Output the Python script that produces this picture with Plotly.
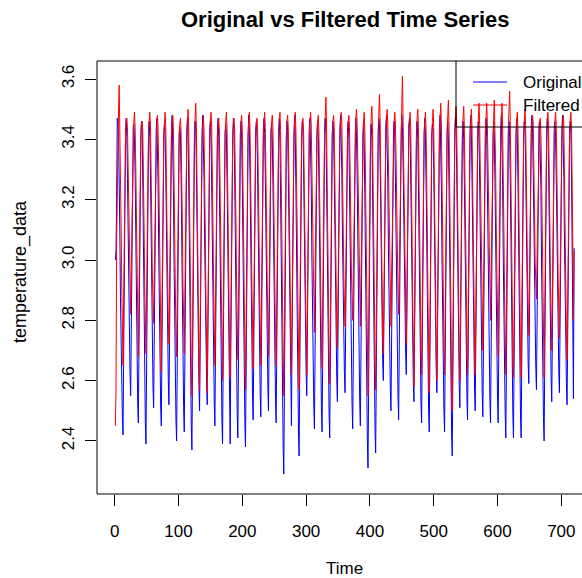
import plotly.graph_objects as go

# Monthly values, one row per 12-step cycle
original_rows = [
    [3.00,3.03,3.20,3.47,3.45,3.42,3.30,3.10,2.88,2.70,2.56,2.48],
    [2.42,2.73,3.04,3.29,3.42,3.47,3.41,3.27,3.06,2.84,2.67,2.62],
    [2.55,2.83,3.08,3.31,3.44,3.45,3.40,3.28,3.04,2.81,2.63,2.53],
    [2.46,2.76,3.05,3.30,3.42,3.46,3.43,3.26,3.02,2.79,2.60,2.46],
    [2.39,2.70,3.02,3.28,3.42,3.46,3.41,3.29,3.07,2.85,2.68,2.58],
    [2.51,2.80,3.07,3.31,3.43,3.47,3.40,3.25,3.03,2.81,2.62,2.52],
    [2.45,2.75,3.05,3.29,3.42,3.45,3.42,3.29,3.08,2.86,2.69,2.60],
    [2.52,2.81,3.08,3.32,3.44,3.48,3.40,3.24,3.00,2.78,2.59,2.47],
    [2.40,2.70,3.01,3.27,3.41,3.44,3.42,3.28,3.05,2.82,2.64,2.51],
    [2.43,2.74,3.04,3.29,3.42,3.47,3.41,3.26,3.02,2.79,2.60,2.45],
    [2.37,2.68,3.00,3.27,3.41,3.46,3.43,3.30,3.08,2.86,2.68,2.58],
    [2.50,2.79,3.07,3.31,3.43,3.48,3.41,3.27,3.06,2.85,2.68,2.60],
    [2.52,2.81,3.07,3.31,3.44,3.46,3.40,3.25,3.03,2.81,2.63,2.53],
    [2.45,2.75,3.04,3.29,3.42,3.47,3.41,3.26,3.03,2.80,2.61,2.47],
    [2.39,2.70,3.02,3.28,3.42,3.45,3.42,3.27,3.04,2.81,2.61,2.47],
    [2.39,2.71,3.02,3.28,3.41,3.47,3.43,3.28,3.05,2.82,2.63,2.49],
    [2.41,2.72,3.03,3.29,3.42,3.46,3.40,3.25,3.02,2.79,2.60,2.46],
    [2.38,2.69,3.01,3.27,3.41,3.48,3.43,3.29,3.07,2.85,2.67,2.55],
    [2.47,2.77,3.05,3.30,3.43,3.46,3.41,3.27,3.05,2.84,2.66,2.56],
    [2.48,2.78,3.06,3.30,3.43,3.47,3.42,3.28,3.06,2.85,2.67,2.58],
    [2.50,2.79,3.07,3.31,3.43,3.45,3.40,3.25,3.03,2.82,2.64,2.54],
    [2.46,2.76,3.05,3.29,3.42,3.47,3.39,3.21,2.95,2.71,2.51,2.38],
    [2.29,2.62,2.97,3.25,3.40,3.46,3.43,3.30,3.08,2.85,2.66,2.53],
    [2.45,2.75,3.04,3.29,3.42,3.48,3.41,3.24,2.99,2.76,2.56,2.43],
    [2.35,2.67,3.00,3.27,3.41,3.46,3.44,3.31,3.10,2.89,2.71,2.63],
    [2.55,2.83,3.09,3.32,3.44,3.47,3.40,3.25,3.02,2.80,2.62,2.52],
    [2.44,2.74,3.04,3.29,3.42,3.46,3.41,3.27,3.04,2.81,2.62,2.51],
    [2.43,2.73,3.03,3.28,3.42,3.47,3.42,3.27,3.03,2.80,2.61,2.49],
    [2.41,2.72,3.03,3.28,3.42,3.46,3.43,3.30,3.09,2.87,2.69,2.61],
    [2.53,2.82,3.08,3.31,3.44,3.48,3.42,3.29,3.08,2.88,2.71,2.63],
    [2.56,2.84,3.10,3.32,3.44,3.46,3.40,3.24,3.01,2.79,2.61,2.52],
    [2.44,2.74,3.04,3.29,3.42,3.47,3.41,3.27,3.04,2.82,2.63,2.53],
    [2.45,2.75,3.04,3.29,3.42,3.46,3.39,3.22,2.96,2.72,2.52,2.40],
    [2.31,2.64,2.98,3.25,3.40,3.45,3.41,3.26,3.01,2.77,2.56,2.44],
    [2.36,2.68,3.01,3.27,3.41,3.47,3.45,3.32,3.12,2.91,2.75,2.67],
    [2.60,2.87,3.11,3.33,3.45,3.48,3.40,3.26,3.04,2.83,2.66,2.57],
    [2.50,2.79,3.07,3.31,3.43,3.46,3.40,3.26,3.04,2.83,2.65,2.55],
    [2.47,2.77,3.05,3.30,3.43,3.48,3.44,3.32,3.11,2.91,2.76,2.69],
    [2.62,2.88,3.12,3.34,3.45,3.47,3.41,3.27,3.06,2.86,2.69,2.60],
    [2.53,2.82,3.08,3.31,3.44,3.46,3.40,3.25,3.03,2.81,2.63,2.53],
    [2.46,2.76,3.05,3.29,3.42,3.47,3.41,3.26,3.03,2.80,2.61,2.50],
    [2.43,2.73,3.03,3.28,3.42,3.45,3.43,3.30,3.09,2.88,2.71,2.63],
    [2.56,2.84,3.10,3.32,3.44,3.48,3.40,3.24,3.00,2.78,2.60,2.50],
    [2.43,2.73,3.03,3.28,3.42,3.46,3.40,3.24,2.99,2.75,2.55,2.43],
    [2.35,2.67,3.00,3.27,3.41,3.47,3.43,3.30,3.08,2.86,2.68,2.58],
    [2.51,2.80,3.07,3.31,3.43,3.46,3.40,3.26,3.04,2.83,2.65,2.55],
    [2.47,2.77,3.05,3.30,3.43,3.48,3.42,3.28,3.06,2.85,2.67,2.57],
    [2.50,2.79,3.07,3.31,3.43,3.46,3.40,3.26,3.05,2.84,2.66,2.56],
    [2.48,2.78,3.06,3.30,3.43,3.47,3.41,3.26,3.04,2.82,2.64,2.54],
    [2.46,2.76,3.05,3.29,3.42,3.46,3.41,3.26,3.04,2.82,2.64,2.54],
    [2.46,2.76,3.04,3.29,3.42,3.48,3.40,3.25,3.01,2.79,2.60,2.49],
    [2.41,2.72,3.03,3.28,3.42,3.46,3.41,3.27,3.03,2.80,2.61,2.49],
    [2.41,2.72,3.03,3.28,3.42,3.47,3.42,3.27,3.03,2.80,2.61,2.49],
    [2.41,2.72,3.03,3.28,3.42,3.46,3.44,3.32,3.11,2.91,2.74,2.66],
    [2.59,2.86,3.11,3.33,3.45,3.48,3.42,3.29,3.08,2.88,2.72,2.64],
    [2.57,2.85,3.10,3.32,3.45,3.46,3.38,3.23,2.99,2.76,2.57,2.48],
    [2.40,2.71,3.02,3.28,3.42,3.47,3.43,3.30,3.09,2.88,2.70,2.61],
    [2.53,2.82,3.08,3.31,3.44,3.46,3.41,3.28,3.07,2.87,2.71,2.63],
    [2.56,2.84,3.10,3.32,3.44,3.48,3.41,3.27,3.05,2.85,2.68,2.59],
    [2.52,2.81,3.07,3.31,3.43,3.46,3.42,3.28,3.06,2.80,2.54,3.04],
]

filtered_rows = [
    [2.45,2.56,3.05,3.29,3.40,3.50,3.58,3.46,3.33,3.12,2.92,2.74],
    [2.65,2.86,3.10,3.30,3.42,3.46,3.47,3.44,3.32,3.13,2.95,2.90],
    [2.82,2.98,3.14,3.32,3.43,3.46,3.49,3.44,3.31,3.11,2.91,2.76],
    [2.68,2.88,3.10,3.30,3.41,3.45,3.46,3.43,3.31,3.12,2.92,2.77],
    [2.69,2.89,3.11,3.30,3.42,3.46,3.49,3.45,3.33,3.14,2.95,2.87],
    [2.79,2.96,3.13,3.31,3.42,3.46,3.48,3.43,3.30,3.10,2.89,2.71],
    [2.63,2.84,3.09,3.29,3.41,3.46,3.49,3.44,3.32,3.13,2.94,2.80],
    [2.72,2.91,3.11,3.30,3.42,3.46,3.48,3.44,3.31,3.11,2.91,2.76],
    [2.68,2.88,3.10,3.30,3.42,3.45,3.47,3.43,3.31,3.12,2.92,2.77],
    [2.69,2.89,3.11,3.30,3.42,3.46,3.50,3.44,3.30,3.09,2.87,2.63],
    [2.55,2.78,3.07,3.29,3.42,3.47,3.52,3.44,3.30,3.10,2.88,2.65],
    [2.57,2.80,3.07,3.28,3.40,3.45,3.48,3.43,3.30,3.09,2.87,2.64],
    [2.56,2.79,3.07,3.29,3.41,3.46,3.49,3.44,3.32,3.12,2.92,2.73],
    [2.65,2.86,3.10,3.30,3.42,3.45,3.47,3.43,3.31,3.11,2.90,2.68],
    [2.60,2.82,3.08,3.29,3.41,3.46,3.49,3.44,3.31,3.11,2.90,2.69],
    [2.61,2.83,3.09,3.29,3.41,3.45,3.47,3.43,3.32,3.13,2.93,2.75],
    [2.67,2.87,3.10,3.30,3.42,3.46,3.48,3.43,3.30,3.09,2.87,2.65],
    [2.57,2.80,3.07,3.29,3.41,3.46,3.49,3.44,3.32,3.12,2.92,2.72],
    [2.64,2.85,3.09,3.29,3.41,3.45,3.47,3.43,3.31,3.12,2.92,2.73],
    [2.65,2.86,3.10,3.30,3.42,3.46,3.49,3.44,3.32,3.13,2.93,2.76],
    [2.68,2.88,3.10,3.30,3.42,3.46,3.48,3.44,3.31,3.11,2.91,2.73],
    [2.65,2.86,3.10,3.30,3.42,3.46,3.49,3.43,3.30,3.09,2.86,2.63],
    [2.55,2.78,3.07,3.29,3.41,3.46,3.48,3.44,3.32,3.12,2.91,2.70],
    [2.62,2.84,3.09,3.29,3.41,3.46,3.49,3.43,3.30,3.10,2.88,2.65],
    [2.57,2.80,3.07,3.28,3.41,3.45,3.47,3.43,3.31,3.11,2.91,2.70],
    [2.62,2.84,3.09,3.29,3.42,3.46,3.49,3.45,3.33,3.14,2.95,2.84],
    [2.76,2.94,3.13,3.31,3.42,3.46,3.48,3.43,3.30,3.10,2.89,2.72],
    [2.64,2.85,3.10,3.30,3.43,3.48,3.54,3.45,3.31,3.10,2.88,2.67],
    [2.59,2.81,3.08,3.29,3.41,3.46,3.48,3.44,3.32,3.13,2.94,2.79],
    [2.71,2.90,3.11,3.30,3.42,3.46,3.49,3.45,3.33,3.14,2.95,2.86],
    [2.78,2.95,3.13,3.31,3.42,3.46,3.48,3.44,3.33,3.14,2.96,2.88],
    [2.80,2.97,3.14,3.32,3.43,3.47,3.50,3.45,3.33,3.14,2.95,2.86],
    [2.78,2.95,3.13,3.31,3.42,3.46,3.49,3.43,3.29,3.08,2.85,2.63],
    [2.55,2.78,3.07,3.29,3.42,3.47,3.51,3.44,3.30,3.10,2.88,2.65],
    [2.57,2.80,3.08,3.30,3.43,3.49,3.55,3.46,3.33,3.13,2.93,2.77],
    [2.69,2.89,3.11,3.30,3.42,3.47,3.50,3.45,3.33,3.14,2.95,2.86],
    [2.78,2.95,3.13,3.31,3.42,3.46,3.49,3.45,3.34,3.15,2.97,2.90],
    [2.82,2.98,3.15,3.33,3.45,3.52,3.61,3.47,3.33,3.13,2.93,2.80],
    [2.72,2.91,3.11,3.30,3.42,3.46,3.49,3.43,3.30,3.10,2.88,2.66],
    [2.58,2.81,3.08,3.29,3.42,3.47,3.50,3.44,3.31,3.11,2.90,2.70],
    [2.62,2.84,3.09,3.29,3.42,3.46,3.49,3.43,3.30,3.09,2.87,2.64],
    [2.56,2.79,3.07,3.29,3.41,3.46,3.50,3.44,3.31,3.11,2.90,2.68],
    [2.60,2.82,3.08,3.30,3.42,3.47,3.52,3.45,3.32,3.12,2.91,2.70],
    [2.62,2.84,3.09,3.30,3.43,3.48,3.53,3.44,3.29,3.08,2.84,2.58],
    [2.50,2.74,3.05,3.28,3.42,3.47,3.51,3.44,3.31,3.11,2.90,2.68],
    [2.60,2.82,3.08,3.30,3.42,3.47,3.51,3.44,3.31,3.12,2.91,2.70],
    [2.62,2.84,3.09,3.30,3.42,3.46,3.50,3.44,3.31,3.12,2.91,2.70],
    [2.62,2.84,3.09,3.30,3.42,3.47,3.52,3.45,3.32,3.13,2.94,2.78],
    [2.70,2.89,3.11,3.31,3.43,3.47,3.52,3.46,3.34,3.15,2.97,2.88],
    [2.80,2.97,3.14,3.32,3.43,3.48,3.53,3.45,3.31,3.11,2.91,2.76],
    [2.68,2.88,3.10,3.30,3.42,3.47,3.52,3.44,3.31,3.10,2.89,2.70],
    [2.62,2.84,3.09,3.31,3.44,3.50,3.56,3.46,3.32,3.11,2.89,2.69],
    [2.61,2.83,3.09,3.29,3.41,3.46,3.49,3.44,3.31,3.11,2.90,2.69],
    [2.61,2.83,3.09,3.29,3.42,3.46,3.50,3.45,3.33,3.14,2.95,2.83],
    [2.75,2.93,3.12,3.31,3.42,3.46,3.48,3.45,3.34,3.16,2.99,2.95],
    [2.87,3.02,3.16,3.33,3.43,3.46,3.47,3.42,3.29,3.08,2.87,2.69],
    [2.61,2.83,3.09,3.29,3.41,3.46,3.49,3.44,3.32,3.13,2.93,2.78],
    [2.70,2.89,3.11,3.30,3.42,3.46,3.49,3.45,3.33,3.14,2.94,2.82],
    [2.74,2.92,3.12,3.31,3.42,3.46,3.48,3.44,3.31,3.12,2.92,2.75],
    [2.67,2.87,3.10,3.30,3.42,3.46,3.49,3.44,3.30,3.05,2.80,3.03],
]

original = [v for row in original_rows for v in row]
filtered = [v for row in filtered_rows for v in row]
time = list(range(1, len(original) + 1))

x_ticks = [0, 100, 200, 300, 400, 500, 600, 700]
y_ticks = [2.4, 2.6, 2.8, 3.0, 3.2, 3.4, 3.6]
series_names = ["Original", "Filtered"]
series_colors = ["#0000FF", "#FF0000"]

FONT = "Liberation Sans, Arial, Helvetica, sans-serif"

# Page margin is removed by a small post script, so the figure fills the window
OFF = 0
FIG_W, FIG_H = 582, 578
L, T, W, H = 97, 61, 485, 433  # plot area in pixels

fig = go.Figure()
fig.add_trace(go.Scatter(x=time, y=original, mode="lines", name=series_names[0],
                         line=dict(color=series_colors[0], width=1)))
fig.add_trace(go.Scatter(x=time, y=filtered, mode="lines", name=series_names[1],
                         line=dict(color=series_colors[1], width=1)))


def px(x):  # window x -> paper
    return (x - OFF - L) / W


def py(y):  # window y -> paper
    return (T + H - (y - OFF)) / H


shapes = [
    dict(type="line", xref="paper", yref="paper", x0=0, x1=0, y0=0, y1=1,
         line=dict(color="black", width=1)),
    dict(type="line", xref="paper", yref="paper", x0=0, x1=1.02, y0=1, y1=1,
         line=dict(color="black", width=1)),
    dict(type="line", xref="paper", yref="paper", x0=0, x1=1.02, y0=0, y1=0,
         line=dict(color="black", width=1)),
    dict(type="line", xref="paper", yref="paper", x0=px(456), x1=px(456), y0=py(127), y1=1,
         line=dict(color="black", width=1), layer="above"),
    dict(type="line", xref="paper", yref="paper", x0=px(456), x1=1.02, y0=py(127), y1=py(127),
         line=dict(color="black", width=1), layer="above"),
    dict(type="line", xref="paper", yref="paper", x0=px(473), x1=px(507), y0=py(82), y1=py(82),
         line=dict(color=series_colors[0], width=1), layer="above"),
    dict(type="line", xref="paper", yref="paper", x0=px(473), x1=px(507), y0=py(105), y1=py(105),
         line=dict(color=series_colors[1], width=1), layer="above"),
]

annotations = [
    dict(text="<b>Original vs Filtered Time Series</b>", xref="paper", yref="paper",
         x=px(345), y=py(19), xanchor="center", yanchor="middle", showarrow=False,
         borderpad=0, font=dict(family=FONT, size=22, color="black")),
    dict(text="Time", xref="paper", yref="paper", x=px(344), y=py(568),
         xanchor="center", yanchor="middle", showarrow=False,
         font=dict(family=FONT, size=17, color="black")),
    dict(text="temperature_data", xref="paper", yref="paper", x=px(20), y=py(272),
         xanchor="center", yanchor="middle", showarrow=False, textangle=-90,
         font=dict(family=FONT, size=18, color="black")),
    dict(text=series_names[0], xref="paper", yref="paper", x=px(522), y=py(82),
         xanchor="left", yanchor="middle", showarrow=False, borderpad=0,
         font=dict(family=FONT, size=17, color="black")),
    dict(text=series_names[1], xref="paper", yref="paper", x=px(522), y=py(105),
         xanchor="left", yanchor="middle", showarrow=False, borderpad=0,
         font=dict(family=FONT, size=17, color="black")),
]

fig.update_layout(
    width=FIG_W, height=FIG_H,
    margin=dict(l=L, r=FIG_W - L - W, t=T, b=FIG_H - T - H, pad=0),
    paper_bgcolor="white", plot_bgcolor="white",
    showlegend=False,
    font=dict(family=FONT, size=17, color="black"),
    shapes=shapes, annotations=annotations,
)
fig.update_xaxes(range=[-27.76, 732.4], tickvals=x_ticks, ticktext=[str(v) for v in x_ticks],
                 ticks="outside", ticklen=11, tickcolor="black", showgrid=False,
                 zeroline=False, showline=False, ticklabelstandoff=11,
                 tickfont=dict(family=FONT, size=17))
fig.update_yaxes(range=[2.224, 3.660], tickvals=y_ticks, ticktext=[f"{v:.1f}" for v in y_ticks],
                 ticks="outside", ticklen=11, tickcolor="black", showgrid=False,
                 zeroline=False, showline=False, tickangle=-90, ticklabelstandoff=4,
                 tickfont=dict(family=FONT, size=17))

fig.write_html(
    "out.html",
    config={"displayModeBar": False},
    post_script="document.body.style.margin='0px';"
                "document.documentElement.style.overflow='hidden';",
)
